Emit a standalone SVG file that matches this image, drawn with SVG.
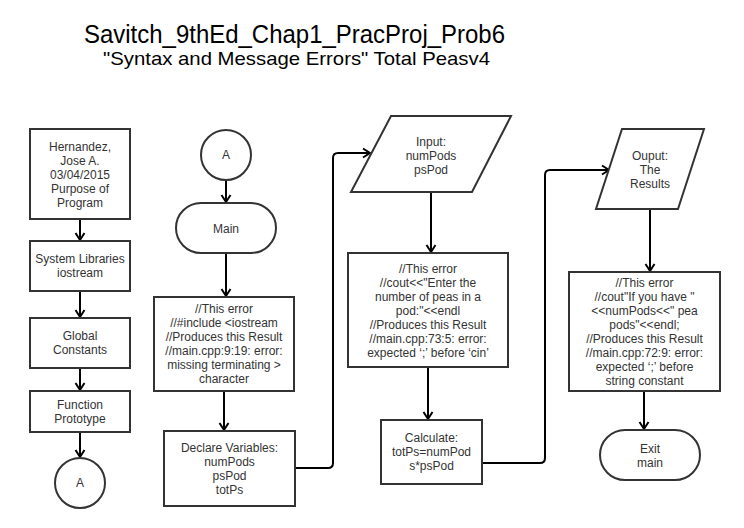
<svg xmlns="http://www.w3.org/2000/svg" width="744" height="528" viewBox="0 0 744 528">
<defs>
<style>
.box{fill:#fff;stroke:#333;stroke-width:2}
.t{font-family:"Liberation Sans",Arial,sans-serif;font-size:12px;fill:#333;text-anchor:middle}
.title{font-family:"Liberation Sans",Arial,sans-serif;fill:#000}
.c{fill:none;stroke:#000;stroke-width:2}
</style>
<marker id="arr" markerUnits="userSpaceOnUse" markerWidth="14" markerHeight="14" refX="10" refY="7" orient="auto">
<path d="M3,2.5 L10,7 L3,11.5" fill="none" stroke="#000" stroke-width="2"/>
</marker>
</defs>
<rect width="744" height="528" fill="#fff"/>
<g id="title">
<text class="title" x="84" y="42.5" font-size="25.5" textLength="421" lengthAdjust="spacingAndGlyphs">Savitch_9thEd_Chap1_PracProj_Prob6</text>
<text class="title" x="103" y="64.5" font-size="18.5" textLength="387" lengthAdjust="spacingAndGlyphs">"Syntax and Message Errors" Total Peasv4</text>
</g>
<g id="connectors">
<path class="c" d="M80,219 V240" marker-end="url(#arr)"/>
<path class="c" d="M80,291 V317" marker-end="url(#arr)"/>
<path class="c" d="M80,368 V390" marker-end="url(#arr)"/>
<path class="c" d="M80,432 V457" marker-end="url(#arr)"/>
<path class="c" d="M226,180 V202" marker-end="url(#arr)"/>
<path class="c" d="M226,253 V296" marker-end="url(#arr)"/>
<path class="c" d="M224,391 V430" marker-end="url(#arr)"/>
<path class="c" d="M295,468 H328 Q333,468 333,463 V158 Q333,153 338,153 H370" marker-end="url(#arr)"/>
<path class="c" d="M431,192 V252" marker-end="url(#arr)"/>
<path class="c" d="M428,367 V419" marker-end="url(#arr)"/>
<path class="c" d="M482,463 H540 Q545,463 545,458 V175 Q545,170 550,170 H609" marker-end="url(#arr)"/>
<path class="c" d="M650,209 V271" marker-end="url(#arr)"/>
<path class="c" d="M644,391 V429" marker-end="url(#arr)"/>
</g>
<g id="header">
<rect class="box" x="30" y="129" width="100" height="90"/>
<text class="t" x="80" y="151">Hernandez,</text>
<text class="t" x="80" y="165">Jose A.</text>
<text class="t" x="80" y="179">03/04/2015</text>
<text class="t" x="80" y="193">Purpose of</text>
<text class="t" x="80" y="207">Program</text>
</g>
<g id="syslib">
<rect class="box" x="30" y="241" width="100" height="50"/>
<text class="t" x="80" y="263">System Libraries</text>
<text class="t" x="80" y="277">iostream</text>
</g>
<g id="global">
<rect class="box" x="30" y="318" width="100" height="50"/>
<text class="t" x="80" y="340">Global</text>
<text class="t" x="80" y="354">Constants</text>
</g>
<g id="proto">
<rect class="box" x="30" y="391" width="100" height="41"/>
<text class="t" x="80" y="409">Function</text>
<text class="t" x="80" y="423">Prototype</text>
</g>
<g id="connA1">
<circle class="box" cx="80" cy="483" r="25"/>
<text class="t" x="80" y="487">A</text>
</g>
<g id="connA2">
<circle class="box" cx="226" cy="155" r="25"/>
<text class="t" x="226" y="159">A</text>
</g>
<g id="main">
<rect class="box" x="176" y="203" width="100" height="50" rx="25" ry="25"/>
<text class="t" x="226" y="233">Main</text>
</g>
<g id="err1">
<rect class="box" x="154" y="297" width="140" height="94"/>
<text class="t" x="224" y="313">//This error</text>
<text class="t" x="224" y="327">//#include &lt;iostream</text>
<text class="t" x="224" y="341">//Produces this Result</text>
<text class="t" x="224" y="355">//main.cpp:9:19: error:</text>
<text class="t" x="224" y="369">missing terminating &gt;</text>
<text class="t" x="224" y="383">character</text>
</g>
<g id="declare">
<rect class="box" x="164" y="431" width="131" height="75"/>
<text class="t" x="229.5" y="452">Declare Variables:</text>
<text class="t" x="229.5" y="466">numPods</text>
<text class="t" x="229.5" y="480">psPod</text>
<text class="t" x="229.5" y="494">totPs</text>
</g>
<g id="input">
<polygon class="box" points="391,116 511,116 472,192 351,192"/>
<text class="t" x="431" y="146">Input:</text>
<text class="t" x="431" y="160">numPods</text>
<text class="t" x="431" y="174">psPod</text>
</g>
<g id="err2">
<rect class="box" x="348" y="253" width="160" height="114"/>
<text class="t" x="428" y="272.5">//This error</text>
<text class="t" x="428" y="286.5">//cout&lt;&lt;"Enter the</text>
<text class="t" x="428" y="300.5">number of peas in a</text>
<text class="t" x="428" y="314.5">pod:"&lt;&lt;endl</text>
<text class="t" x="428" y="328.5">//Produces this Result</text>
<text class="t" x="428" y="342.5">//main.cpp:73:5: error:</text>
<text class="t" x="428" y="356.5">expected ‘;’ before ‘cin’</text>
</g>
<g id="calc">
<rect class="box" x="381" y="420" width="101" height="64"/>
<text class="t" x="431.5" y="441.5">Calculate:</text>
<text class="t" x="431.5" y="455.5">totPs=numPod</text>
<text class="t" x="431.5" y="469.5">s*psPod</text>
</g>
<g id="output">
<polygon class="box" points="622,129 704,129 678,209 596,209"/>
<text class="t" x="650" y="160">Ouput:</text>
<text class="t" x="650" y="174">The</text>
<text class="t" x="650" y="188">Results</text>
</g>
<g id="err3">
<rect class="box" x="569" y="272" width="151" height="119"/>
<text class="t" x="644.5" y="286.5">//This error</text>
<text class="t" x="644.5" y="300.5">//cout"If you have "</text>
<text class="t" x="644.5" y="314.5">&lt;&lt;numPods&lt;&lt;" pea</text>
<text class="t" x="644.5" y="328.5">pods"&lt;&lt;endl;</text>
<text class="t" x="644.5" y="342.5">//Produces this Result</text>
<text class="t" x="644.5" y="356.5">//main.cpp:72:9: error:</text>
<text class="t" x="644.5" y="370.5">expected ‘;’ before</text>
<text class="t" x="644.5" y="384.5">string constant</text>
</g>
<g id="exit">
<rect class="box" x="600" y="430" width="100" height="50" rx="25" ry="25"/>
<text class="t" x="650" y="452.5">Exit</text>
<text class="t" x="650" y="466.5">main</text>
</g>
</svg>
